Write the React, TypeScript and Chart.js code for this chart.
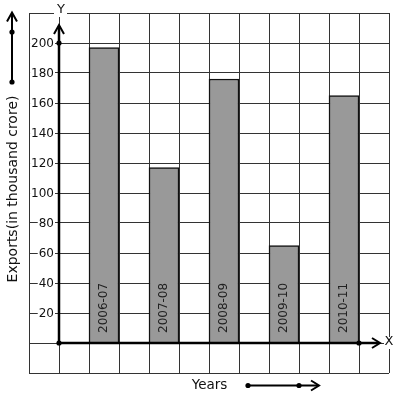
import React, { useEffect, useRef } from 'react';
import { Chart, registerables } from 'chart.js';
Chart.register(...registerables);

const years = ['2006-07', '2007-08', '2008-09', '2009-10', '2010-11'];
const exportsValues = [197, 117, 176, 65, 165];
const yTickValues = [20, 40, 60, 80, 100, 120, 140, 160, 180, 200];
const yTitle = 'Exports(in thousand crore)';
const xTitle = 'Years';
const FONT = "'DejaVu Sans', sans-serif";

function chevron(c: CanvasRenderingContext2D, x: number, y: number, dir: 'up' | 'right') {
  c.beginPath();
  if (dir === 'up') {
    c.moveTo(x - 5, y + 9); c.lineTo(x, y); c.lineTo(x + 5, y + 9);
  } else {
    c.moveTo(x - 8, y - 5); c.lineTo(x, y); c.lineTo(x - 8, y + 5);
  }
  c.stroke();
}
function dot(c: CanvasRenderingContext2D, x: number, y: number) {
  c.beginPath(); c.arc(x, y, 2.6, 0, Math.PI * 2); c.fill();
}

export default function App() {
  const ref = useRef<HTMLCanvasElement>(null);
  useEffect(() => {
    document.body.style.margin = '0';
    const decor = {
      id: 'decor',
      afterDatasetsDraw(chart: any) {
        const c: CanvasRenderingContext2D = chart.ctx;
        const xs = chart.scales.x, ys = chart.scales.y;
        const x0 = xs.getPixelForValue(0), y0 = ys.getPixelForValue(0);
        const a = chart.chartArea;
        c.save();
        // bar labels
        c.fillStyle = '#222';
        c.font = `12px ${FONT}`;
        const meta = chart.getDatasetMeta(0);
        meta.data.forEach((bar: any, i: number) => {
          c.save();
          c.translate(bar.x + 2.5, y0 - 10);
          c.rotate(-Math.PI / 2);
          c.textAlign = 'left'; c.textBaseline = 'alphabetic';
          c.fillText(years[i], 0, 0);
          c.restore();
        });
        // y tick labels
        c.textAlign = 'right'; c.textBaseline = 'middle';
        yTickValues.forEach(v => {
          const py = ys.getPixelForValue(v);
          const t = String(v);
          const w = c.measureText(t).width;
          c.fillStyle = '#fff';
          c.fillRect(x0 - 5 - w - 1, py - 6, w + 2, 12);
          c.fillStyle = '#111';
          c.fillText(t, x0 - 5, py + 0.5);
        });
        // axes
        c.strokeStyle = '#000'; c.fillStyle = '#000'; c.lineWidth = 2.5;
        const yTip = a.top + 12;
        c.beginPath(); c.moveTo(x0, y0); c.lineTo(x0, yTip + 1); c.stroke();
        c.lineWidth = 2;
        chevron(c, x0, yTip, 'up');
        c.lineWidth = 2.5;
        const xTip = a.right - 9;
        c.beginPath(); c.moveTo(x0, y0); c.lineTo(xTip - 1, y0); c.stroke();
        c.lineWidth = 2;
        chevron(c, xTip, y0, 'right');
        dot(c, x0, y0);
        dot(c, x0, ys.getPixelForValue(200));
        dot(c, xs.getPixelForValue(10), y0);
        // axis letters
        c.font = `13px ${FONT}`;
        c.textAlign = 'center'; c.textBaseline = 'middle';
        c.fillStyle = '#fff';
        c.fillRect(x0 - 5, a.top - 4, 13, 8);
        c.fillRect(a.right - 5, y0 - 6, 10, 12);
        c.fillStyle = '#111';
        c.fillText('Y', x0 + 2, a.top - 3);
        c.fillText('X', a.right, y0 - 1);
        // left arrow decoration
        const lx = a.left - 17;
        c.strokeStyle = '#000'; c.fillStyle = '#000'; c.lineWidth = 2;
        c.beginPath(); c.moveTo(lx, a.top + 69); c.lineTo(lx, a.top); c.stroke();
        chevron(c, lx, a.top - 0.5, 'up');
        dot(c, lx, a.top + 19);
        dot(c, lx, a.top + 69);
        // y title
        c.save();
        c.fillStyle = '#111';
        c.font = `14px ${FONT}`;
        c.translate(lx + 1, (a.top + a.bottom) / 2 - 4);
        c.rotate(-Math.PI / 2);
        c.textAlign = 'center'; c.textBaseline = 'middle';
        c.fillText(yTitle, 0, 0);
        c.restore();
        // x title and arrow
        const by = a.bottom + 12.5;
        c.fillStyle = '#111';
        c.font = `13.5px ${FONT}`;
        c.textAlign = 'center'; c.textBaseline = 'middle';
        c.fillText(xTitle, 209.5, by - 0.5);
        c.fillStyle = '#000';
        c.beginPath(); c.moveTo(248, by); c.lineTo(318, by); c.stroke();
        chevron(c, 319, by, 'right');
        dot(c, 248, by);
        dot(c, 299, by);
        c.restore();
      },
    };
    const chart = new Chart(ref.current!, {
      type: 'bar',
      data: {
        datasets: [{
          data: exportsValues.map((v, i) => ({ x: 2 * i + 1.5, y: v })),
          backgroundColor: '#999999',
          borderColor: '#111',
          borderWidth: 1.5,
          barPercentage: 1,
          categoryPercentage: 1,
        }],
      },
      options: {
        animation: false,
        responsive: false,
        layout: { padding: { left: 29, top: 13, right: 8, bottom: 26 } },
        plugins: { legend: { display: false }, tooltip: { enabled: false } },
        scales: {
          x: {
            type: 'linear', min: -1, max: 11, offset: false,
            ticks: { stepSize: 1, display: false },
            grid: { color: '#333', lineWidth: 1, drawTicks: false, offset: false },
            border: { display: false },
          },
          y: {
            type: 'linear', min: -20, max: 220,
            ticks: { stepSize: 20, display: false },
            grid: { color: '#333', lineWidth: 1, drawTicks: false },
            border: { display: false },
          },
        },
      },
      plugins: [decor],
    });
    return () => chart.destroy();
  }, []);
  return (
    <div style={{ width: 397, height: 399 }}>
      <canvas ref={ref} width={397} height={399} style={{ display: 'block' }} />
    </div>
  );
}
